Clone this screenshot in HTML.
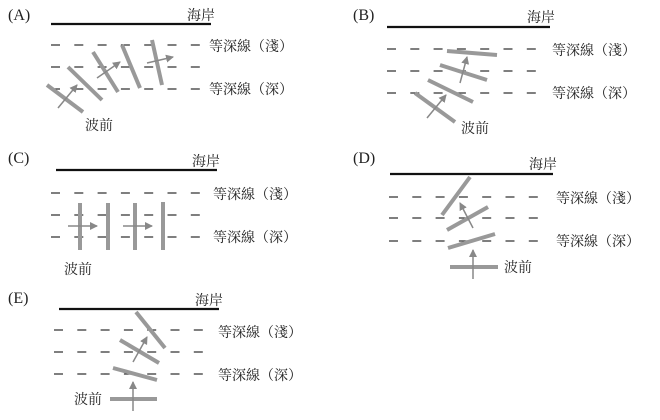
<!DOCTYPE html>
<html><head><meta charset="utf-8"><style>
html,body{margin:0;padding:0;background:#fff}
svg{display:block}
text{font-family:"Liberation Serif","Noto Serif CJK SC","Noto Sans CJK TC",serif;font-size:14px;fill:#222}
.t{font-size:16px}
.s{stroke:#111;stroke-width:2.2}
.d{stroke:#333;stroke-width:1.3;stroke-dasharray:9 14.3}
.w{stroke:#999;stroke-width:4}
.a{stroke:#888;stroke-width:1.5;marker-end:url(#ah)}
</style></head><body>
<svg width="660" height="420" viewBox="0 0 660 420">
<defs><marker id="ah" markerWidth="8" markerHeight="8" refX="7" refY="4" orient="auto" markerUnits="userSpaceOnUse"><path d="M0,0 L8,4 L0,8 z" fill="#888"/></marker></defs>

<!-- A -->
<text class="t" x="8" y="20">(A)</text>
<line class="s" x1="51" y1="24" x2="211" y2="24"/>
<text x="187" y="20">海岸</text>
<line class="d" x1="51" y1="45" x2="201" y2="45"/>
<line class="d" x1="51" y1="67" x2="201" y2="67"/>
<line class="d" x1="51" y1="89" x2="201" y2="89"/>
<text x="209" y="51">等深線（淺）</text>
<text x="209" y="94">等深線（深）</text>
<line class="w" x1="47" y1="85" x2="83" y2="112"/>
<line class="w" x1="68" y1="67" x2="102" y2="100"/>
<line class="w" x1="93" y1="52" x2="118" y2="92"/>
<line class="w" x1="122" y1="45" x2="140" y2="88"/>
<line class="w" x1="152" y1="40" x2="162" y2="85"/>
<line class="a" x1="58" y1="108" x2="77" y2="85"/>
<line class="a" x1="97" y1="78" x2="120" y2="62"/>
<line class="a" x1="147" y1="63" x2="173" y2="57"/>
<text x="85" y="130">波前</text>

<!-- B -->
<text class="t" x="353" y="20">(B)</text>
<line class="s" x1="387" y1="27" x2="550" y2="27"/>
<text x="527" y="22">海岸</text>
<line class="d" x1="387" y1="49" x2="545" y2="49"/>
<line class="d" x1="387" y1="71" x2="545" y2="71"/>
<line class="d" x1="387" y1="93" x2="545" y2="93"/>
<text x="552" y="55">等深線（淺）</text>
<text x="552" y="98">等深線（深）</text>
<line class="w" x1="447" y1="51" x2="497" y2="55"/>
<line class="w" x1="440" y1="65" x2="487" y2="80"/>
<line class="w" x1="428" y1="80" x2="473" y2="102"/>
<line class="w" x1="415" y1="93" x2="455" y2="122"/>
<line class="a" x1="427" y1="118" x2="446" y2="95"/>
<line class="a" x1="460" y1="83" x2="467" y2="57"/>
<text x="461" y="133">波前</text>

<!-- C -->
<text class="t" x="8" y="163">(C)</text>
<line class="s" x1="56" y1="170" x2="217" y2="170"/>
<text x="192" y="166">海岸</text>
<line class="d" x1="51" y1="193" x2="201" y2="193"/>
<line class="d" x1="51" y1="215" x2="201" y2="215"/>
<line class="d" x1="51" y1="237" x2="201" y2="237"/>
<text x="213" y="199">等深線（淺）</text>
<text x="213" y="242">等深線（深）</text>
<line class="w" x1="80" y1="203" x2="80" y2="250"/>
<line class="w" x1="108" y1="203" x2="108" y2="250"/>
<line class="w" x1="135" y1="203" x2="135" y2="250"/>
<line class="w" x1="163" y1="202" x2="163" y2="250"/>
<line class="a" x1="68" y1="226" x2="97" y2="226"/>
<line class="a" x1="123" y1="226" x2="152" y2="226"/>
<text x="64" y="274">波前</text>

<!-- D -->
<text class="t" x="353" y="163">(D)</text>
<line class="s" x1="390" y1="174" x2="553" y2="174"/>
<text x="529" y="169">海岸</text>
<line class="d" x1="389" y1="197" x2="546" y2="197"/>
<line class="d" x1="389" y1="218" x2="546" y2="218"/>
<line class="d" x1="389" y1="241" x2="546" y2="241"/>
<text x="556" y="203">等深線（淺）</text>
<text x="556" y="246">等深線（深）</text>
<line class="w" x1="470" y1="177" x2="442" y2="215"/>
<line class="w" x1="488" y1="207" x2="447" y2="230"/>
<line class="w" x1="495" y1="234" x2="448" y2="248"/>
<line class="w" x1="450" y1="267" x2="498" y2="267"/>
<line class="a" x1="473" y1="279" x2="473" y2="250"/>
<line class="a" x1="473" y1="228" x2="460" y2="203"/>
<text x="504" y="272">波前</text>

<!-- E -->
<text class="t" x="8" y="303">(E)</text>
<line class="s" x1="59" y1="309" x2="219" y2="309"/>
<text x="195" y="305">海岸</text>
<line class="d" x1="54" y1="330" x2="207" y2="330"/>
<line class="d" x1="54" y1="352" x2="207" y2="352"/>
<line class="d" x1="54" y1="374" x2="207" y2="374"/>
<text x="218" y="337">等深線（淺）</text>
<text x="218" y="380">等深線（深）</text>
<line class="w" x1="136" y1="312" x2="165" y2="348"/>
<line class="w" x1="120" y1="340" x2="159" y2="363"/>
<line class="w" x1="113" y1="368" x2="157" y2="380"/>
<line class="w" x1="110" y1="399" x2="157" y2="399"/>
<line class="a" x1="133" y1="411" x2="133" y2="382"/>
<line class="a" x1="133" y1="362" x2="147" y2="337"/>
<text x="74" y="404">波前</text>
</svg>
</body></html>
